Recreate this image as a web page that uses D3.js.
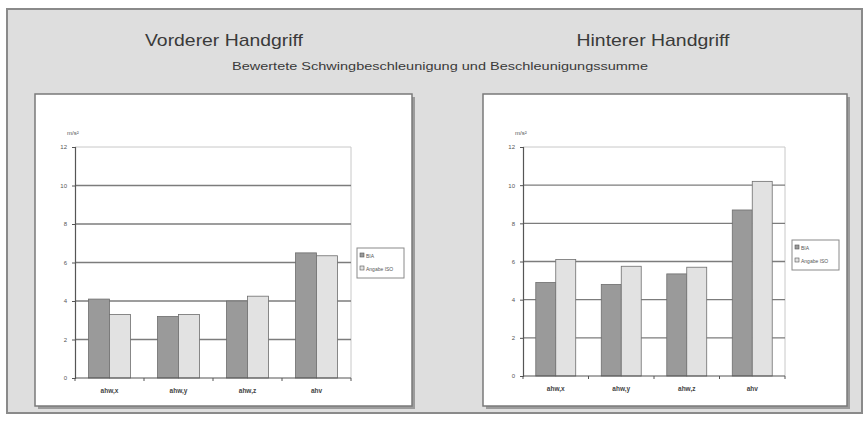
<!DOCTYPE html>
<html>
<head>
<meta charset="utf-8">
<script src="https://cdn.jsdelivr.net/npm/d3@7"></script>
<style>
  html, body { margin: 0; padding: 0; background: #ffffff; }
  svg { display: block; font-family: "Liberation Sans", Arial, sans-serif; }
</style>
</head>
<body>
<svg id="chart" width="867" height="434"></svg>
<script>
// Hand-arm vibration: frequency-weighted acceleration per axis and vibration total value
const categories = ["ahw,x", "ahw,y", "ahw,z", "ahv"];
const seriesNames = ["BIA", "Angabe ISO"];
const frontMeasured = [4.1, 3.2, 4.0, 6.5];
const frontDeclared = [3.3, 3.3, 4.25, 6.35];
const rearMeasured = [4.9, 4.8, 5.35, 8.7];
const rearDeclared = [6.1, 5.75, 5.7, 10.2];
const yTicks = [0, 2, 4, 6, 8, 10, 12];
const unitLabel = "m/s²";

const svg = d3.select("#chart");

// outer panel
svg.append("rect").attr("x", 7).attr("y", 9).attr("width", 855).attr("height", 404)
  .attr("fill", "#dedede").attr("stroke", "#8a8a8a").attr("stroke-width", 2);

svg.append("text").attr("x", 224).attr("y", 46).attr("text-anchor", "middle")
  .attr("font-size", 17).attr("fill", "#3a3a3a")
  .attr("textLength", 158).attr("lengthAdjust", "spacingAndGlyphs").text("Vorderer Handgriff");
svg.append("text").attr("x", 653).attr("y", 46).attr("text-anchor", "middle")
  .attr("font-size", 17).attr("fill", "#3a3a3a")
  .attr("textLength", 153).attr("lengthAdjust", "spacingAndGlyphs").text("Hinterer Handgriff");
svg.append("text").attr("x", 440).attr("y", 70).attr("text-anchor", "middle")
  .attr("font-size", 11).attr("fill", "#3a3a3a")
  .attr("textLength", 416).attr("lengthAdjust", "spacingAndGlyphs")
  .text("Bewertete Schwingbeschleunigung und Beschleunigungssumme");

const colors = ["#9a9a9a", "#e2e2e2"];

function drawPanel(box, plot, legend, measured, declared) {
  // chart box with shadow
  svg.append("rect").attr("x", box.x + 3).attr("y", box.y + 3).attr("width", box.w).attr("height", box.h)
    .attr("fill", "#9c9c9c");
  svg.append("rect").attr("x", box.x).attr("y", box.y).attr("width", box.w).attr("height", box.h)
    .attr("fill", "#ffffff").attr("stroke", "#7a7a7a").attr("stroke-width", 1.5);

  const g = svg.append("g");
  const x0 = d3.scaleBand().domain(categories).range([plot.x0, plot.x1]).paddingInner(0).paddingOuter(0);
  const x1 = d3.scaleBand().domain(seriesNames).range([0, x0.bandwidth()]).paddingInner(0).paddingOuter(0.64);
  const y = d3.scaleLinear().domain([0, 12]).range([plot.y0, plot.y1]);

  // plot area frame (top and right)
  g.append("path")
    .attr("d", `M${plot.x0},${plot.y1}H${plot.x1}V${plot.y0}`)
    .attr("fill", "none").attr("stroke", "#c8c8c8").attr("stroke-width", 1);

  // gridlines
  g.selectAll("line.grid").data(yTicks.filter(t => t > 0 && t < 12)).join("line")
    .attr("class", "grid")
    .attr("x1", plot.x0).attr("x2", plot.x1)
    .attr("y1", d => y(d)).attr("y2", d => y(d))
    .attr("stroke", "#7c7c7c").attr("stroke-width", 1.4);

  // bars
  const rows = categories.map((c, i) => ({ cat: c, vals: [measured[i], declared[i]] }));
  const grp = g.selectAll("g.cat").data(rows).join("g")
    .attr("transform", d => `translate(${x0(d.cat)},0)`);
  grp.selectAll("rect").data(d => d.vals.map((v, j) => ({ s: seriesNames[j], v, j }))).join("rect")
    .attr("x", d => x1(d.s)).attr("width", x1.bandwidth())
    .attr("y", d => y(d.v)).attr("height", d => y(0) - y(d.v))
    .attr("fill", d => colors[d.j]).attr("stroke", "#6e6e6e").attr("stroke-width", 0.8);

  // y axis
  const yAxis = g.append("g").attr("transform", `translate(${plot.x0},0)`)
    .call(d3.axisLeft(y).tickValues(yTicks).tickSize(3).tickFormat(d3.format("d")));
  yAxis.select(".domain").attr("stroke", "#555").attr("stroke-width", 1.2);
  yAxis.selectAll(".tick line").attr("stroke", "#555");
  yAxis.selectAll("text").attr("font-size", 6).attr("fill", "#555").attr("x", -8);

  // x axis line with boundary ticks
  g.append("line").attr("x1", plot.x0).attr("x2", plot.x1).attr("y1", y(0)).attr("y2", y(0))
    .attr("stroke", "#555").attr("stroke-width", 1.2);
  const bounds = categories.map(c => x0(c)).concat([x0.range()[1]]);
  g.selectAll("line.xt").data(bounds).join("line").attr("class", "xt")
    .attr("x1", d => d).attr("x2", d => d).attr("y1", y(0)).attr("y2", y(0) + 3)
    .attr("stroke", "#555");
  g.selectAll("text.xl").data(categories).join("text").attr("class", "xl")
    .attr("x", d => x0(d) + x0.bandwidth() / 2).attr("y", y(0) + 15)
    .attr("text-anchor", "middle").attr("font-size", 6.5).attr("font-weight", "bold")
    .attr("fill", "#444").text(d => d);

  // unit label
  g.append("text").attr("x", plot.x0 - 8).attr("y", plot.y1 - 12)
    .attr("font-size", 6).attr("fill", "#555").text(unitLabel);

  // legend
  const lg = svg.append("g");
  lg.append("rect").attr("x", legend.x).attr("y", legend.y).attr("width", 47).attr("height", 30)
    .attr("fill", "#fff").attr("stroke", "#8a8a8a").attr("stroke-width", 1);
  seriesNames.forEach((s, j) => {
    const yy = legend.y + 8 + j * 13;
    lg.append("rect").attr("x", legend.x + 3).attr("y", yy - 3).attr("width", 4).attr("height", 4)
      .attr("fill", colors[j]).attr("stroke", "#555").attr("stroke-width", 0.6);
    lg.append("text").attr("x", legend.x + 9).attr("y", yy + 1.5)
      .attr("font-size", 5).attr("fill", "#555").text(s);
  });
}

drawPanel({ x: 35, y: 94, w: 377, h: 312 },
  { x0: 75, x1: 351, y0: 378, y1: 147 },
  { x: 357, y: 248 }, frontMeasured, frontDeclared);
drawPanel({ x: 483, y: 94, w: 364, h: 312 },
  { x0: 523, x1: 785, y0: 376, y1: 147 },
  { x: 792, y: 240 }, rearMeasured, rearDeclared);
</script>
</body>
</html>
